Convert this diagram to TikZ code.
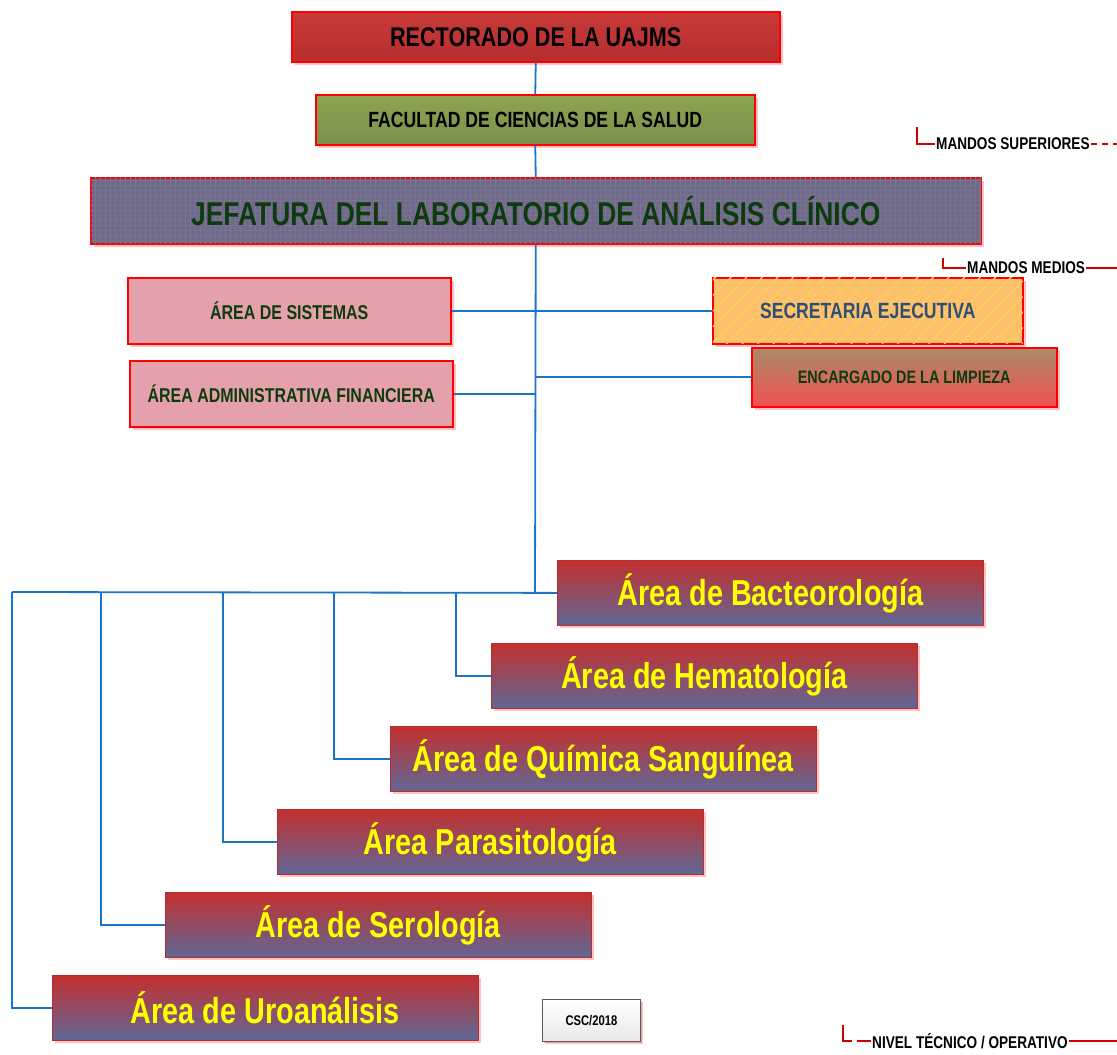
\documentclass[tikz,border=0pt]{standalone}
\usepackage{fontspec}
\setmainfont[FakeStretch=0.80]{Liberation Sans}
\usepackage{tikz}
\usetikzlibrary{shadows,patterns.meta}
\definecolor{wire}{HTML}{1A75C8}
\definecolor{borde}{HTML}{FF0000}
\definecolor{rojo}{HTML}{C3302F}
\definecolor{rojob}{HTML}{B72D2E}
\definecolor{olivo}{HTML}{8DA452}
\definecolor{olivob}{HTML}{7A914A}
\definecolor{lila}{HTML}{6F6A8A}
\definecolor{rosa}{HTML}{E4A1AC}
\definecolor{naranja}{HTML}{FDC16E}
\definecolor{cafe}{HTML}{A88C6A}
\definecolor{coral}{HTML}{F24F4F}
\definecolor{azulgris}{HTML}{5F6896}
\definecolor{verdeosc}{HTML}{0E3B0E}
\definecolor{tinta}{HTML}{2F4F75}
\definecolor{amarillo}{HTML}{FFFF00}
\definecolor{marca}{HTML}{D00000}
\tikzset{
  caja/.style={draw=borde, line width=1.5pt, inner sep=0pt, anchor=north west, align=center,
    drop shadow={fill=red!70, opacity=0.35, shadow xshift=3pt, shadow yshift=-3pt}},
  area/.style={caja, draw=rojob, line width=0.8pt, top color=rojo, bottom color=azulgris,
    text=amarillo, font=\bfseries\fontsize{36}{38}\selectfont, minimum width=426pt, minimum height=65pt},
  linea/.style={draw=wire, line width=1.8pt},
  rama/.style={draw=wire, line width=1.4pt},
  tope/.style={draw=marca, line width=1.1pt},
  nivel/.style={inner sep=1pt, font=\bfseries\fontsize{17}{19}\selectfont},
}
\begin{document}
\begin{tikzpicture}[x=1pt,y=-1pt]
  \useasboundingbox (0,0) rectangle (1117,1055);
  \node[caja, top color=rojo!95!white, bottom color=rojob, minimum width=488pt, minimum height=50pt,
    font=\bfseries\fontsize{27}{29}\selectfont] (rect) at (291,11) {RECTORADO DE LA UAJMS};
  \node[caja, top color=olivo, bottom color=olivob, minimum width=439pt, minimum height=50pt,
    font=\bfseries\fontsize{22}{24}\selectfont] (fac) at (315,94) {FACULTAD DE CIENCIAS DE LA SALUD};
  \node[caja, fill=lila, postaction={pattern={Hatch[angle=0,distance=5pt,line width=0.5pt]},
    pattern color=lila!94!white}, minimum width=890pt,
    minimum height=66pt, text=verdeosc, font=\bfseries\fontsize{33}{35}\selectfont] (jef) at (90,177)
    {JEFATURA DEL LABORATORIO DE ANÁLISIS CLÍNICO};
  \node[caja, fill=rosa, minimum width=323pt, minimum height=66pt, text=verdeosc,
    font=\bfseries\fontsize{20}{22}\selectfont] (sis) at (127,277) {ÁREA DE SISTEMAS};
  \node[caja, fill=rosa, minimum width=323pt, minimum height=66pt, text=verdeosc,
    font=\bfseries\fontsize{20}{22}\selectfont] (adm) at (129,360) {ÁREA ADMINISTRATIVA FINANCIERA};
  \node[caja, fill=naranja, postaction={pattern={Lines[angle=45,distance=11pt,line width=1.2pt]},
    pattern color=naranja!75!yellow}, minimum width=310pt, minimum height=66pt, text=tinta,
    font=\bfseries\fontsize{22}{24}\selectfont] (sec) at (712,277) {SECRETARIA EJECUTIVA};
  \node[caja, top color=cafe, bottom color=coral, minimum width=305pt, minimum height=59pt,
    text=verdeosc, font=\bfseries\fontsize{18}{20}\selectfont] (enc) at (751,347) {ENCARGADO DE LA LIMPIEZA};
  \foreach \nom/\x/\y/\txt in {bact/557/560/{Área de Bacteorología}, hema/491/643/{Área de Hematología},
      quim/390/726/{Área de Química Sanguínea}, para/277/809/{Área Parasitología},
      sero/165/892/{Área de Serología}, uro/52/975/{Área de Uroanálisis}}
    \node[area] (\nom) at (\x,\y) {\txt};
  \node[caja, draw=gray!70!black, line width=0.8pt, top color=white, bottom color=gray!18,
    drop shadow={fill=gray, opacity=0.3, shadow xshift=2pt, shadow yshift=-2pt},
    minimum width=98pt, minimum height=42pt, font=\bfseries\fontsize{14}{16}\selectfont] (csc) at (542,999) {CSC/2018};
  \draw[linea] (rect.south) -- (fac.north);
  \draw[linea] (fac.south) -- (jef.north);
  \coordinate (bus) at (535,592);
  \coordinate (izq) at (12,592);
  \draw[linea] (jef.south) -- (bus);
  \draw[linea] (sis.east) -- (sec.west);
  \draw[linea] (adm.east) -- (adm.east -| jef.south);
  \draw[linea] (enc.west) -- (enc.west -| jef.south);
  \draw[linea] (bact.west) -- (izq);
  \foreach \nom/\x in {hema/456, quim/334, para/223, sero/101, uro/12} {
    \coordinate (t-\nom) at (\x,592);
    \draw[rama] (t-\nom) |- (\nom.west);
  }
  \node[nivel, anchor=west] (sup) at (935,144) {MANDOS SUPERIORES};
  \node[nivel, anchor=west] (med) at (966,268) {MANDOS MEDIOS};
  \node[nivel, anchor=west] (tec) at (871,1041) {NIVEL TÉCNICO / OPERATIVO};
  \coordinate (fin1) at (1117,144);
  \coordinate (fin2) at (1117,268);
  \coordinate (fin3) at (1117,1041);
  \draw[tope] (917,127) |- (sup.west);
  \draw[tope, dash pattern=on 6pt off 5pt] (sup.east) -- (fin1);
  \draw[tope] (943,258) |- (med.west);
  \draw[tope] (med.east) -- (fin2);
  \draw[tope] (843,1025) |- (852,1041);
  \draw[tope] (857,1041) -- (tec.west);
  \draw[tope] (tec.east) -- (fin3);
\end{tikzpicture}
\end{document}
